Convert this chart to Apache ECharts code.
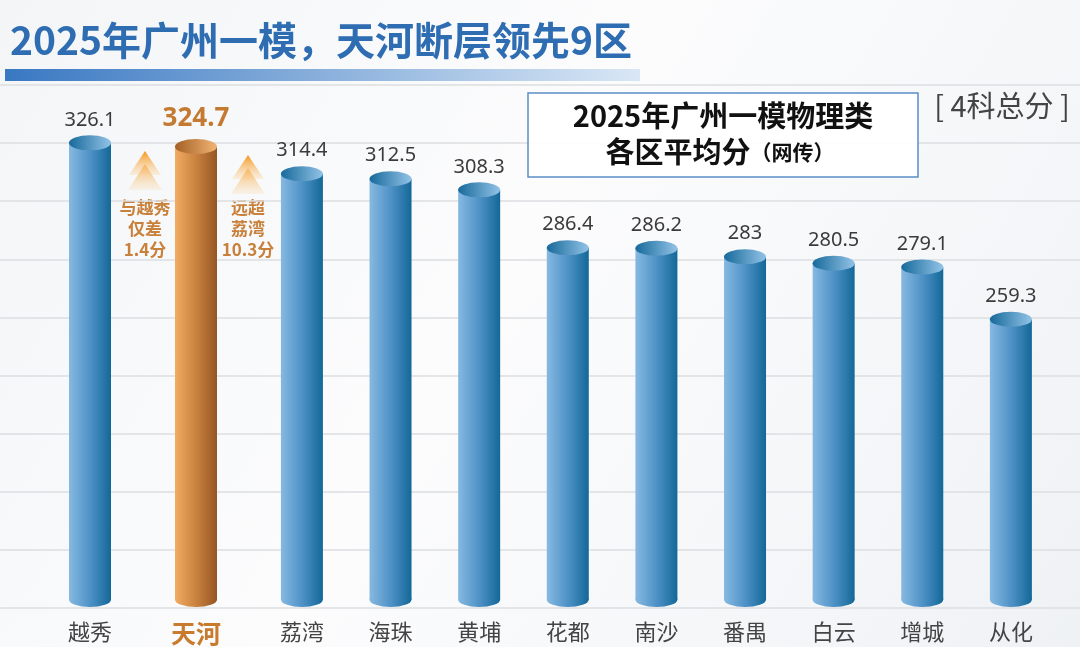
<!DOCTYPE html>
<html>
<head>
<meta charset="utf-8">
<script src="https://cdn.jsdelivr.net/npm/echarts@6/dist/echarts.min.js"></script>
<style>
html,body{margin:0;padding:0;background:#fff;}
#main{width:1080px;height:647px;}
</style>
</head>
<body>
<div id="main"></div>
<script>
// 各区平均分（4科总分）
var districts = ['越秀', '天河', '荔湾', '海珠', '黄埔', '花都', '南沙', '番禺', '白云', '增城', '从化'];
var scores = [326.1, 324.7, 314.4, 312.5, 308.3, 286.4, 286.2, 283, 280.5, 279.1, 259.3];
var leader = '天河';
var noteLeft = ['与越秀', '仅差', '1.4分'];
var noteRight = ['远超', '荔湾', '10.3分'];
var yMin = 150, yMax = 348;

var CJK = '"Noto Sans CJK SC", "Noto Sans", sans-serif';
var chart = echarts.init(document.getElementById('main'));

function hGrad(stops) {
    return new echarts.graphic.LinearGradient(0, 0, 1, 0, stops);
}
var blueBody = [{offset: 0, color: '#86b9e1'}, {offset: 0.5, color: '#4f92c7'}, {offset: 1, color: '#136898'}];
var blueTop = [{offset: 0, color: '#176a9b'}, {offset: 1, color: '#93c3e7'}];
var orangeBody = [{offset: 0, color: '#f3ab62'}, {offset: 0.5, color: '#c9823f'}, {offset: 1, color: '#965624'}];
var orangeTop = [{offset: 0, color: '#a36026'}, {offset: 1, color: '#f2b473'}];

// 圆柱：柱身 + 底部椭圆 + 顶部椭圆 + 数值
function cylinder(names) {
    return function (params, api) {
        var idx = api.value(0);
        var top = api.coord([idx, api.value(1)]);
        var base = api.coord([idx, yMin]);
        var rx = 21, ry = 7.5;
        var x = top[0];
        var lead = names[params.dataIndex] === leader;
        var bottomY = base[1] - ry - 1;
        return {
            type: 'group',
            children: [
                {
                    type: 'rect',
                    shape: {x: x - rx, y: top[1], width: rx * 2, height: bottomY - top[1]},
                    style: {fill: hGrad(lead ? orangeBody : blueBody)}
                },
                {
                    type: 'circle',
                    x: x, y: bottomY, scaleY: ry / rx,
                    shape: {cx: 0, cy: 0, r: rx},
                    style: {fill: hGrad(lead ? orangeBody : blueBody)}
                },
                {
                    type: 'circle',
                    x: x, y: top[1], scaleY: ry / rx,
                    shape: {cx: 0, cy: 0, r: rx},
                    style: {fill: hGrad(lead ? orangeTop : blueTop)}
                },
                {
                    type: 'text',
                    x: x, y: top[1] - (lead ? 28 : 23),
                    style: {
                        text: String(api.value(1)),
                        fill: lead ? '#c57a33' : '#3b3b3b',
                        fontSize: lead ? 26 : 20,
                        fontWeight: lead ? 'bold' : 'normal',
                        fontFamily: '"Noto Sans", sans-serif',
                        align: 'center',
                        verticalAlign: 'middle'
                    }
                }
            ]
        };
    };
}

function catAxis(grid, names) {
    return {
        gridIndex: grid,
        type: 'category',
        data: names,
        axisLine: {show: false},
        axisTick: {show: false},
        axisLabel: {
            interval: 0,
            hideOverlap: false,
            margin: 13,
            fontSize: 22,
            color: '#444',
            fontFamily: CJK,
            formatter: function (v) {
                return v === leader ? '{lead|' + v + '}' : v;
            },
            rich: {
                lead: {fontSize: 25, fontWeight: 'bold', color: '#c97b2d', fontFamily: CJK}
            }
        }
    };
}

function valAxis(grid) {
    return {gridIndex: grid, type: 'value', min: yMin, max: yMax, show: false};
}

function arrow(cx, tip) {
    var fill = new echarts.graphic.LinearGradient(0, 0, 0, 1, [
        {offset: 0, color: '#f5961e'},
        {offset: 1, color: 'rgba(250,205,140,0.25)'}
    ]);
    return [
        {type: 'polygon', shape: {points: [[cx, tip + 13], [cx + 17, tip + 39], [cx - 17, tip + 39]]}, style: {fill: fill, opacity: 0.7}},
        {type: 'polygon', shape: {points: [[cx, tip], [cx + 16, tip + 24], [cx - 16, tip + 24]]}, style: {fill: fill}}
    ];
}

function note(cx, y, lines) {
    return {
        type: 'text', x: cx, y: y,
        style: {
            text: lines.join('\n'),
            fill: '#c9803a',
            font: 'bold 17px ' + CJK,
            lineHeight: 21,
            align: 'center',
            verticalAlign: 'top'
        }
    };
}

var names0 = districts.slice(0, 2), names1 = districts.slice(2);
var data0 = scores.slice(0, 2).map(function (v, i) { return [i, v]; });
var data1 = scores.slice(2).map(function (v, i) { return [i, v]; });

var option = {
    backgroundColor: new echarts.graphic.LinearGradient(0, 0, 1, 1, [
        {offset: 0, color: '#f3f5f7'},
        {offset: 0.45, color: '#fcfcfd'},
        {offset: 1, color: '#eff2f5'}
    ]),
    animation: false,
    grid: [
        {left: 37, width: 212, top: 85, bottom: 39},
        {left: 257.6, width: 797.6, top: 85, bottom: 39},
        {left: 0, right: 0, top: 85, bottom: 39}
    ],
    xAxis: [
        catAxis(0, names0),
        catAxis(1, names1),
        {gridIndex: 2, type: 'value', min: 0, max: 1, show: false}
    ],
    yAxis: [
        valAxis(0),
        valAxis(1),
        {
            gridIndex: 2, type: 'value', min: 0, max: 9, interval: 1,
            axisLine: {show: false}, axisTick: {show: false}, axisLabel: {show: false},
            splitLine: {lineStyle: {color: '#dcdee1', width: 1.5}}
        }
    ],
    series: [
        {type: 'custom', xAxisIndex: 0, yAxisIndex: 0, renderItem: cylinder(names0), data: data0, z: 5},
        {type: 'custom', xAxisIndex: 1, yAxisIndex: 1, renderItem: cylinder(names1), data: data1, z: 5}
    ],
    graphic: [
        {
            type: 'text', left: 10, top: 21, z: 10,
            style: {text: '2025年广州一模，天河断层领先9区', font: 'bold 39px ' + CJK, fill: '#2f6db3'}
        },
        {
            type: 'rect', shape: {x: 5, y: 69, width: 635, height: 12}, z: 10,
            style: {fill: hGrad([{offset: 0, color: '#3978c2'}, {offset: 1, color: '#d9e7f5'}])}
        },
        {
            type: 'rect', shape: {x: 528, y: 93, width: 390, height: 84}, z: 10,
            style: {fill: 'rgba(255,255,255,0.92)', stroke: '#5a8ec6', lineWidth: 1.5}
        },
        {
            type: 'text', x: 723, y: 116, z: 11,
            style: {text: '2025年广州一模物理类', font: 'bold 29px ' + CJK, fill: '#111', align: 'center', verticalAlign: 'middle'}
        },
        {
            type: 'text', x: 720, y: 152, z: 11,
            style: {
                text: '{a|各区平均分}{b|（网传）}', align: 'center', verticalAlign: 'middle',
                rich: {
                    a: {font: 'bold 29px ' + CJK, fill: '#111', color: '#111'},
                    b: {font: 'bold 21px ' + CJK, fill: '#111', color: '#111'}
                }
            }
        },
        {
            type: 'text', x: 1002, y: 106, z: 11,
            style: {text: '[ 4科总分 ]', font: '29px ' + CJK, fill: '#444', align: 'center', verticalAlign: 'middle'}
        }
    ].concat(arrow(145, 151), arrow(248, 155), [note(145, 197, noteLeft), note(248, 197, noteRight)])
};

chart.setOption(option);
</script>
</body>
</html>
